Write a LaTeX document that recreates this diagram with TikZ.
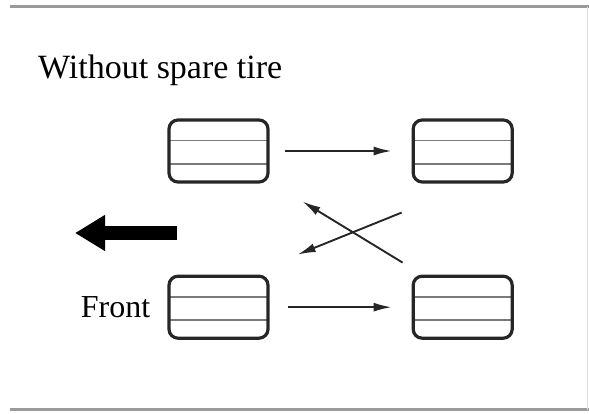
\documentclass[tikz,border=0pt]{standalone}
\usepackage{fontspec}
\setmainfont{Liberation Serif}
\usepackage{xcolor}
\definecolor{colTire}{HTML}{262626}
\definecolor{colTread}{HTML}{7A7A7A}
\definecolor{colFrame}{HTML}{9A9A9A}
\usepackage{tikz}
\usetikzlibrary{arrows.meta, positioning, calc}
\tikzset{
    treadline/.style={line width=1.8pt, color=colTread},
    tirebox/.style={
        draw=colTire, line width=3.2pt,
        rounded corners=9pt,
        minimum width=99pt, minimum height=62pt,
        inner sep=0pt,
        path picture={
            \draw[treadline]
                ($(path picture bounding box.north west)!0.33!(path picture bounding box.south west)$) --
                ($(path picture bounding box.north east)!0.33!(path picture bounding box.south east)$);
            \draw[treadline]
                ($(path picture bounding box.north west)!0.71!(path picture bounding box.south west)$) --
                ($(path picture bounding box.north east)!0.71!(path picture bounding box.south east)$);
        }
    },
    movearrow/.style={-{Latex[length=18pt,width=9pt]}, line width=1.9pt, color=colTire},
    frontarrow/.style={-{Triangle[length=30pt,width=34pt]}, line width=14pt, color=black},
    bigtext/.style={inner sep=0pt, font=\fontsize{32}{38}\selectfont},
}
\begin{document}
\begin{tikzpicture}[x=1pt, y=1pt, node distance=91pt and 142pt]
        \useasboundingbox (0,0) rectangle (589,414);
        \draw[colFrame, line width=3pt] (10,407) -- (589,407);
        \draw[colFrame, line width=3pt] (10,4) -- (589,4);
        \draw[colFrame!30, line width=1pt] (587,407) -- (587,4);
        \node[bigtext, anchor=west, font=\fontsize{34}{40}\selectfont] (title) at (38,344)
              {Without spare tire};
        \node[tirebox] (tl) at (218.5,263) {};
        \node[tirebox, right=of tl] (tr) {};
        \node[tirebox, below=of tl] (bl) {};
        \node[tirebox, right=of bl] (br) {};
        \node[bigtext, left=17pt of bl] (front) {Front};
        \draw[movearrow, shorten <=15pt, shorten >=20pt] (tl) -- (tr);
        \draw[movearrow, shorten <=18pt, shorten >=20pt] (bl) -- (br);
        \draw[movearrow] ([xshift=-9pt, yshift=12pt]br.north west)
              -- ([xshift=33pt, yshift=-18pt]tl.south east);
        \draw[movearrow] ([xshift=-10pt, yshift=-29pt]tr.south west)
              -- ([xshift=28pt, yshift=20pt]bl.north east);
        \coordinate (fronttail) at (177,181);
        \coordinate (fronttip) at (75,181);
        \draw[frontarrow] (fronttail) -- (fronttip);
    \end{tikzpicture}
\end{document}
